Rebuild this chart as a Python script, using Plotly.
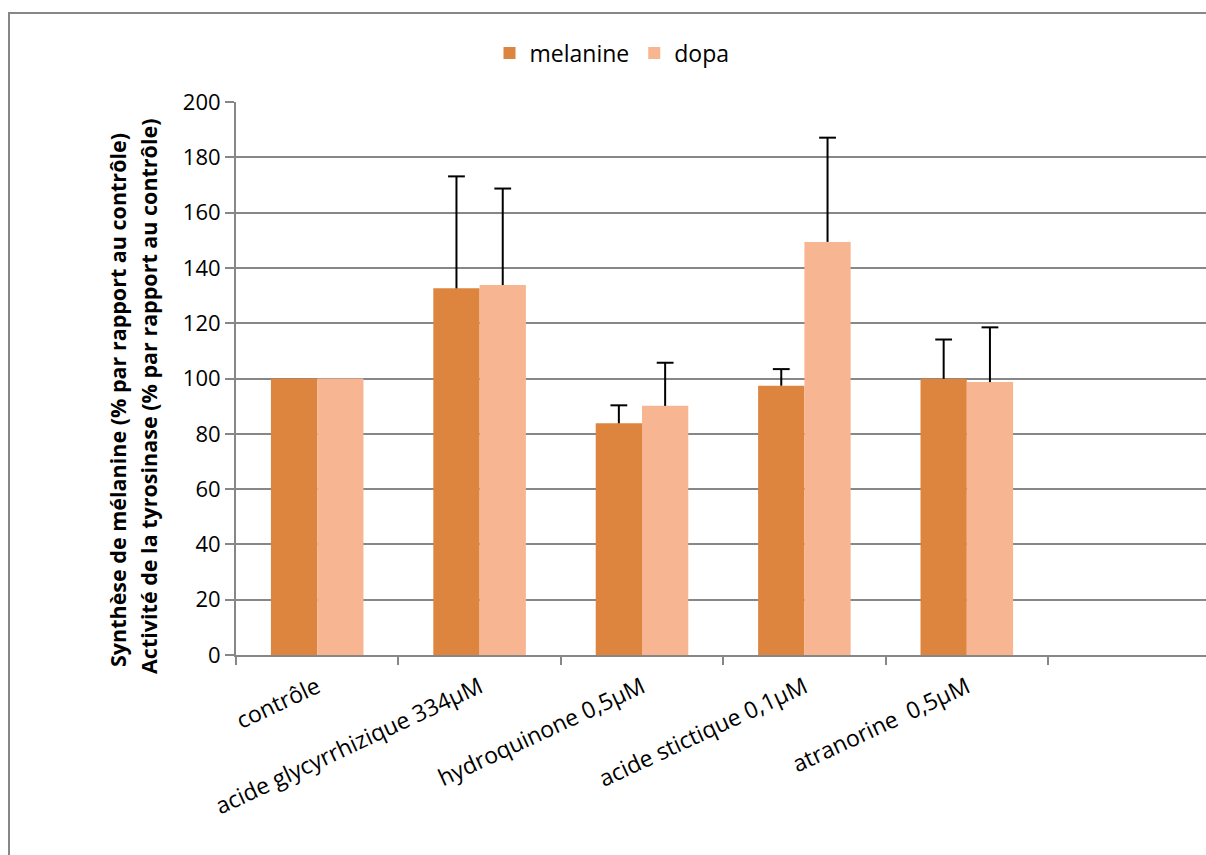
import plotly.graph_objects as go

categories = ["contrôle", "acide glycyrrhizique 334µM", "hydroquinone 0,5µM",
              "acide stictique 0,1µM", "atranorine  0,5µM"]
melanine = [100, 132.6, 83.8, 97.4, 99.9]
melanine_err = [None, 40.5, 6.5, 6.0, 14.2]
dopa = [100, 133.8, 90.1, 149.4, 98.7]
dopa_err = [None, 34.9, 15.6, 37.7, 19.8]
y_ticks = [0, 20, 40, 60, 80, 100, 120, 140, 160, 180, 200]

C_MEL = "#DD843F"
C_DOPA = "#F8B591"
GRID = "#878787"
FONT = "Open Sans"
BARGAP = 0.43

xs = list(range(len(categories)))
half = (1 - BARGAP) / 4.0

fig = go.Figure()
for name, vals, errs, col, sign in [("melanine", melanine, melanine_err, C_MEL, -1),
                                     ("dopa", dopa, dopa_err, C_DOPA, 1)]:
    fig.add_trace(go.Bar(
        x=xs, y=vals, name=name, marker=dict(color=col, line=dict(width=0)),
        error_y=dict(type="data", symmetric=False, array=errs,
                     arrayminus=[0 if e is not None else None for e in errs],
                     color="black", thickness=2, width=0),
    ))
    cx, cy = [], []
    for i, v, e in zip(xs, vals, errs):
        if e is not None:
            cx.append(i + sign * half)
            cy.append(v + e)
    fig.add_trace(go.Scatter(
        x=cx, y=cy, mode="markers", showlegend=False, hoverinfo="skip",
        marker=dict(symbol="line-ew", size=12, color="black",
                    line=dict(color="black", width=2)),
    ))

W, H = 1206, 855
L, R, T, B = 236, 0, 102, 200
pw, ph = W - L - R, H - T - B

def px(x_screen):
    return (x_screen - L) / pw

def py(y_screen):
    return ((H - B) - y_screen) / ph

fig.update_layout(
    width=W, height=H,
    margin=dict(l=L, r=R, t=T, b=B, pad=0),
    paper_bgcolor="white", plot_bgcolor="white",
    barmode="group", bargap=BARGAP, bargroupgap=0,
    font=dict(family=FONT, size=22, color="black"),
    showlegend=True,
    legend=dict(orientation="h", x=px(612), xanchor="center", y=py(53), yanchor="middle",
                font=dict(family=FONT, size=23, color="black"),
                bgcolor="rgba(0,0,0,0)", itemclick=False, tracegroupgap=0),
    xaxis=dict(
        range=[-0.5, -0.5 + pw / 162.4],
        tickmode="array", tickvals=xs, ticktext=categories,
        tickangle=-25, ticks="outside", ticklen=8, tickcolor="rgba(0,0,0,0)",
        tickfont=dict(family=FONT, size=23, color="black"),
        showgrid=False, zeroline=False,
        showline=True, linecolor=GRID, linewidth=2,
        minor=dict(tickmode="array", tickvals=[k - 0.5 for k in range(7)],
                   ticks="outside", ticklen=8, tickcolor=GRID, tickwidth=2,
                   showgrid=False),
    ),
    yaxis=dict(
        range=[0, 200], tickmode="array", tickvals=y_ticks,
        ticks="outside", ticklen=9, tickcolor=GRID, tickwidth=2,
        tickfont=dict(family=FONT, size=22, color="black"),
        showgrid=True, gridcolor=GRID, gridwidth=2,
        zeroline=False, showline=True, linecolor=GRID, linewidth=2,
    ),
    shapes=[dict(type="rect", xref="paper", yref="paper",
                 x0=px(9), x1=px(1240), y0=py(13), y1=py(900),
                 line=dict(color=GRID, width=2), fillcolor="rgba(0,0,0,0)", layer="below")],
    annotations=[
        dict(text="<b>Synthèse de mélanine (% par rapport au contrôle)</b>",
             xref="paper", yref="paper", x=px(117), y=py(400), textangle=-90,
             showarrow=False, xanchor="center", yanchor="middle",
             font=dict(family=FONT, size=21.5, color="black")),
        dict(text="<b>Activité de la tyrosinase (% par rapport au contrôle)</b>",
             xref="paper", yref="paper", x=px(148), y=py(397), textangle=-90,
             showarrow=False, xanchor="center", yanchor="middle",
             font=dict(family=FONT, size=21.5, color="black")),
    ],
)

fig.write_html(
    "out.html",
    config={"responsive": False, "displayModeBar": False},
    post_script="document.body.style.margin='0';document.body.style.overflow='hidden';",
)
